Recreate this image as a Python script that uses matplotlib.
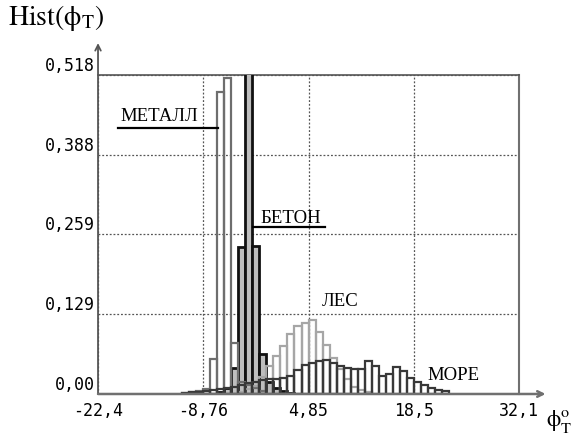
import numpy as np
import matplotlib
matplotlib.use("Agg")
import matplotlib.pyplot as plt

plt.rcParams['mathtext.fontset'] = 'stix'

# histogram grid: 60 bins between the axis limits
x_min, x_max, n_bins = -22.4, 32.1, 60
edges = np.linspace(x_min, x_max, n_bins + 1)
bw = edges[1] - edges[0]

# class histograms (first bin index + relative frequencies)
metal_start = 12
metal = [0.002, 0.003, 0.005, 0.008, 0.057, 0.490, 0.513, 0.083, 0.020, 0.014, 0.010, 0.005]

beton_start = 17
beton = [0.004, 0.010, 0.042, 0.238, 0.620, 0.240, 0.065, 0.020, 0.010, 0.005, 0.002]

les_start = 20
les = [0.004, 0.008, 0.013, 0.028, 0.045, 0.062, 0.078, 0.098, 0.110, 0.116, 0.120,
       0.101, 0.080, 0.059, 0.040, 0.024, 0.012, 0.006, 0.003]

more_start = 12
more = [0.002, 0.003, 0.004, 0.005, 0.006, 0.008, 0.010, 0.012, 0.015, 0.018, 0.020,
        0.022, 0.024, 0.025, 0.026, 0.030, 0.039, 0.047, 0.050, 0.053, 0.055, 0.050,
        0.046, 0.042, 0.040, 0.040, 0.054, 0.045, 0.030, 0.032, 0.044, 0.038, 0.026,
        0.019, 0.015, 0.010, 0.006, 0.005]

x_ticks = [-22.4, -8.76, 4.85, 18.5, 32.1]
x_labels = ["-22,4", "-8,76", "4,85", "18,5", "32,1"]
y_ticks = [0.0, 0.1295, 0.259, 0.3885, 0.518]
y_labels = ["0,00", "0,129", "0,259", "0,388", "0,518"]

fig = plt.figure(figsize=(5.8, 4.41), dpi=100)
ax = fig.add_axes([0.169, 0.1066, 0.7259, 0.7234])


def draw(start, h, **kw):
    ax.bar(edges[start:start + len(h)], h, width=bw, align='edge', **kw)


draw(beton_start, beton, facecolor='#bebebe', edgecolor='#111111', linewidth=2.0, zorder=3)
draw(metal_start, metal, facecolor='none', edgecolor='#6e6e6e', linewidth=1.6, zorder=4)
draw(les_start, les, facecolor='none', edgecolor='#a6a6a6', linewidth=1.6, zorder=4)
draw(more_start, more, facecolor='none', edgecolor='#383838', linewidth=1.6, zorder=5)

ax.set_xlim(x_min, x_max)
ax.set_ylim(0, 0.518)
ax.set_xticks(x_ticks)
ax.set_xticklabels(x_labels)
ax.set_yticks(y_ticks)
ax.set_yticklabels(y_labels)
ax.tick_params(length=0, labelsize=12, pad=2)
ax.tick_params(axis='x', pad=6)
for lab in ax.get_xticklabels() + ax.get_yticklabels():
    lab.set_family('DejaVu Sans Mono')
for lab in ax.get_yticklabels():
    lab.set_va('bottom')

ax.grid(True, linestyle=(0, (1.5, 1.5)), color='#555555', linewidth=0.9, zorder=1)
ax.set_axisbelow(True)

ax.spines['left'].set_visible(False)
ax.spines['bottom'].set_visible(False)
ax.spines['top'].set_color('#555555')
ax.spines['top'].set_linewidth(1.2)
ax.spines['right'].set_color('#707070')
ax.spines['right'].set_linewidth(1.5)

ax.annotate('', xy=(0, 1.10), xytext=(0, 0), xycoords='axes fraction',
            arrowprops=dict(arrowstyle='->', color='#555555', lw=1.3,
                            shrinkA=0, shrinkB=0, mutation_scale=10),
            annotation_clip=False, zorder=6)
ax.annotate('', xy=(1.063, 0), xytext=(0, 0), xycoords='axes fraction',
            arrowprops=dict(arrowstyle='->', color='#707070', lw=1.8,
                            shrinkA=0, shrinkB=0, mutation_scale=10),
            annotation_clip=False, zorder=6)

# class labels
serif = 'Liberation Serif'
ax.text(-19.55, 0.443, 'МЕТАЛЛ', family=serif, fontsize=13.5, va='baseline')
ax.plot([-19.81, -6.87], [0.432, 0.432], color='black', lw=1.6, zorder=6)
ax.text(-1.43, 0.2777, 'БЕТОН', family=serif, fontsize=13.5, va='baseline')
ax.plot([-2.33, 6.99], [0.271, 0.271], color='black', lw=1.6, zorder=6)
ax.text(6.6, 0.1429, 'ЛЕС', family=serif, fontsize=13.5, va='baseline')
ax.text(20.19, 0.0227, 'МОРЕ', family=serif, fontsize=13.5, va='baseline')

fig.text(8 / 580, 1 - 25 / 441, r'$\mathrm{Hist(\phi_T)}$', fontsize=20, va='baseline')
fig.text(546 / 580, 1 - 427 / 441, r'$\mathrm{\phi^o_T}$', fontsize=16.5, va='baseline')

fig.savefig('out.png', dpi=100)
